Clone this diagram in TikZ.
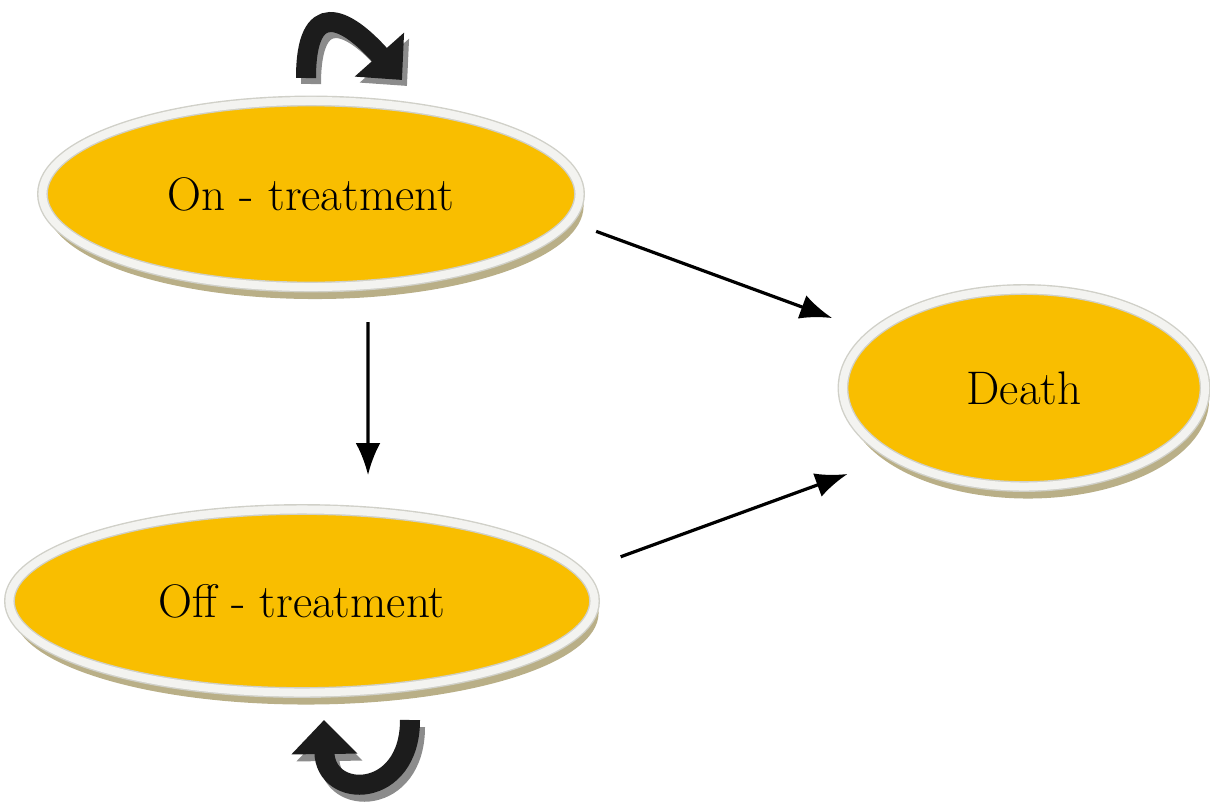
\documentclass[tikz,border=0pt]{standalone}
\usepackage{tikz}
\usepackage{xcolor}
\usetikzlibrary{shapes.geometric,shadows,arrows.meta}
\definecolor{stateyellow}{RGB}{249,190,0}
\definecolor{rimwhite}{RGB}{243,243,240}
\definecolor{rimgray}{RGB}{208,208,200}
\definecolor{shadowtan}{RGB}{185,175,135}
\definecolor{loopgray}{RGB}{140,140,140}
\definecolor{loopblack}{RGB}{28,28,28}

\begin{document}
\begin{tikzpicture}[x=0.025cm, y=-0.025cm,
    state/.style={ellipse, inner sep=0pt, outer sep=0pt, fill=stateyellow,
        draw=rimgray, line width=0.27cm,
        drop shadow={shadow xshift=0.1cm, shadow yshift=-0.3cm, fill=shadowtan, opacity=1},
        postaction={draw=rimwhite, line width=0.2cm},
        font=\fontsize{33.5}{40}\selectfont},
    flow/.style={-{Latex[length=0.8cm,width=0.62cm]}, line width=0.08cm},
    loopar/.style={-{Triangle[length=0.85cm,width=1.6cm]}, line width=0.5cm, loopblack},
    loopshadow/.style={loopar, loopgray}]

    \useasboundingbox (0,0) rectangle (1210,803);

    % The three states
    \node[state, minimum width=13.425cm, minimum height=4.65cm] (on) at (311,194) {On - treatment};
    \node[state, minimum width=14.625cm, minimum height=4.575cm] (off) at (302,601) {Off - treatment};
    \node[state, minimum width=9.05cm, minimum height=4.925cm] (death) at (1024,388) {Death};

    % Transitions between states
    \draw[flow, shorten <=0.75cm, shorten >=1.1cm] (on.-6) -- (death.160);
    \draw[flow, shorten <=0.875cm, shorten >=0.86cm] ([xshift=1.425cm]on.south) -- ([xshift=1.65cm]off.north);
    \draw[flow, shorten <=1.1cm, shorten >=1.25cm] (off.6) -- (death.208);

    % Staying in the same state (curled arrows with a gray shadow)
    \coordinate (onloopa) at (306,78);
    \coordinate (onloopb) at (402,80);
    \coordinate (offloopa) at (410,720);
    \coordinate (offloopb) at (324,720);
    \draw[loopshadow] ([shift={(5,6)}]onloopa) .. controls (311,4) and (350,22) .. ([shift={(5,6)}]onloopb);
    \draw[loopar] (onloopa) .. controls (306,-2) and (345,16) .. (onloopb);
    \draw[loopshadow] ([shift={(5,7)}]offloopa) .. controls (415,807) and (330,807) .. ([shift={(5,7)}]offloopb);
    \draw[loopar] (offloopa) .. controls (410,800) and (325,800) .. (offloopb);
\end{tikzpicture}
\end{document}
